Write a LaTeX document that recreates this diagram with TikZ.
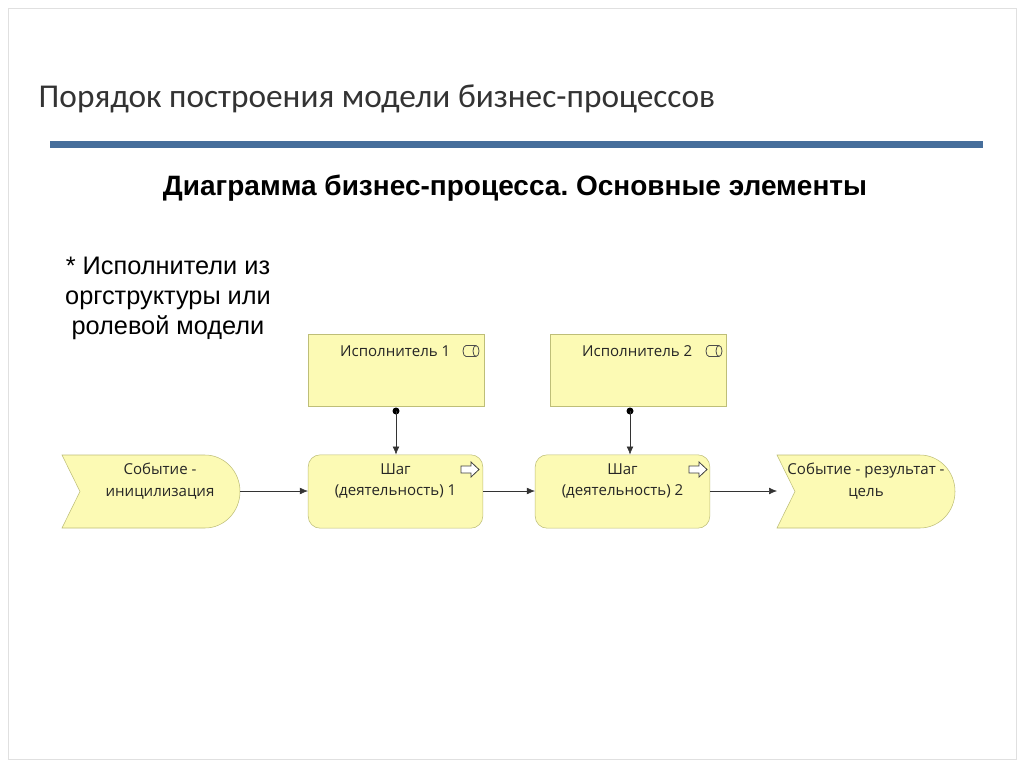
\documentclass[tikz,border=0pt]{standalone}
\usepackage{fontspec}
\setmainfont{Liberation Sans}
\newfontfamily\titlefont{Carlito}
\newfontfamily\diafont{Open Sans}
\usetikzlibrary{arrows.meta}
\frenchspacing
\definecolor{boxfill}{RGB}{252,250,180}
\definecolor{boxline}{RGB}{190,190,120}
\definecolor{barblue}{RGB}{70,110,155}
\tikzset{
  px/.style={x=0.75pt,y=-0.75pt},
  role/.style={draw=boxline,fill=boxfill,minimum width=132pt,minimum height=54pt,inner sep=0pt},
  stepbox/.style={draw=boxline,fill=boxfill,rounded corners=9pt,minimum width=131pt,minimum height=55pt,inner sep=0pt},
  lbl/.style={font=\diafont\fontsize{11.3}{16}\selectfont,align=center,text=black!85},
  conn/.style={draw=black!80,-{Latex[length=6pt,width=5pt]}},
}
\begin{document}
\begin{tikzpicture}[px]
\useasboundingbox (0,0) rectangle (1024,767);
\fill[white] (0,0) rectangle (1024,767);
\draw[black!12] (8,8) rectangle (1016,759);
\node[anchor=west,font=\titlefont\fontsize{25}{30}\selectfont,text=black!80] (title) at (34,99) {Порядок построения модели бизнес-процессов};
\fill[barblue] (50,140.5) rectangle (983,147.5);
\node[font=\bfseries\fontsize{21}{25}\selectfont] (sub) at (515,188) {Диаграмма бизнес-процесса. Основные элементы};
\node[align=center,font=\fontsize{19}{22.5}\selectfont] (note) at (168,298) {* Исполнители из\\оргструктуры или\\ролевой модели};
% roles
\node[role] (r1) at (396,370) {};
\node[role] (r2) at (638.5,370) {};
\node[lbl,anchor=east] at (455,351) {Исполнитель 1};
\node[lbl,anchor=east] at (697,351) {Исполнитель 2};
\foreach \cx in {471,714}{
  \draw[black!70,line width=0.6pt] (\cx-5,345.5) -- (\cx+5,345.5);
  \draw[black!70,line width=0.6pt] (\cx-5,356.5) -- (\cx+5,356.5);
  \draw[black!70,line width=0.6pt] (\cx+5,351) ellipse[x radius=3,y radius=5.5];
  \draw[black!70,line width=0.6pt] (\cx-5,345.5) arc[start angle=270,end angle=90,x radius=3,y radius=5.5];
}
% steps
\node[stepbox] (s1) at (395.5,491.5) {};
\node[stepbox] (s2) at (622.5,491.5) {};
\node[lbl] at (395.5,481) {Шаг\\(деятельность) 1};
\node[lbl] at (622.5,481) {Шаг\\(деятельность) 2};
\foreach \ax in {461,689}{
  \draw[black!75,line width=0.6pt,fill=white] (\ax,466) -- (\ax+10,466) -- (\ax+10,462) -- (\ax+18,469.5) -- (\ax+10,477) -- (\ax+10,473) -- (\ax,473) -- cycle;
}
% events
\draw[boxline,fill=boxfill] (62,455) -- (205,455) arc[start angle=-90,end angle=90,x radius=35,y radius=36.5] -- (62,528) -- (80,491.5) -- cycle;
\draw[boxline,fill=boxfill] (777,455) -- (920,455) arc[start angle=-90,end angle=90,x radius=35,y radius=36.5] -- (777,528) -- (795,491.5) -- cycle;
\coordinate (e1) at (240,491);
\coordinate (e2) at (777,491);
\node[lbl] at (160,481) {Событие -\\иницилизация};
\node[lbl] at (866,481) {Событие - результат -\\цель};
% connectors
\draw[conn] (e1) -- (s1.west|-e1);
\draw[conn] (s1.east|-e1) -- (s2.west|-e1);
\draw[conn] (s2.east|-e1) -- (e2);
\fill[black] (396,411) circle (3.5);
\fill[black] (630,411) circle (3.5);
\draw[conn] (396,411) -- (s1.north-|396,0);
\draw[conn] (630,411) -- (s2.north-|630,0);
\end{tikzpicture}
\end{document}
